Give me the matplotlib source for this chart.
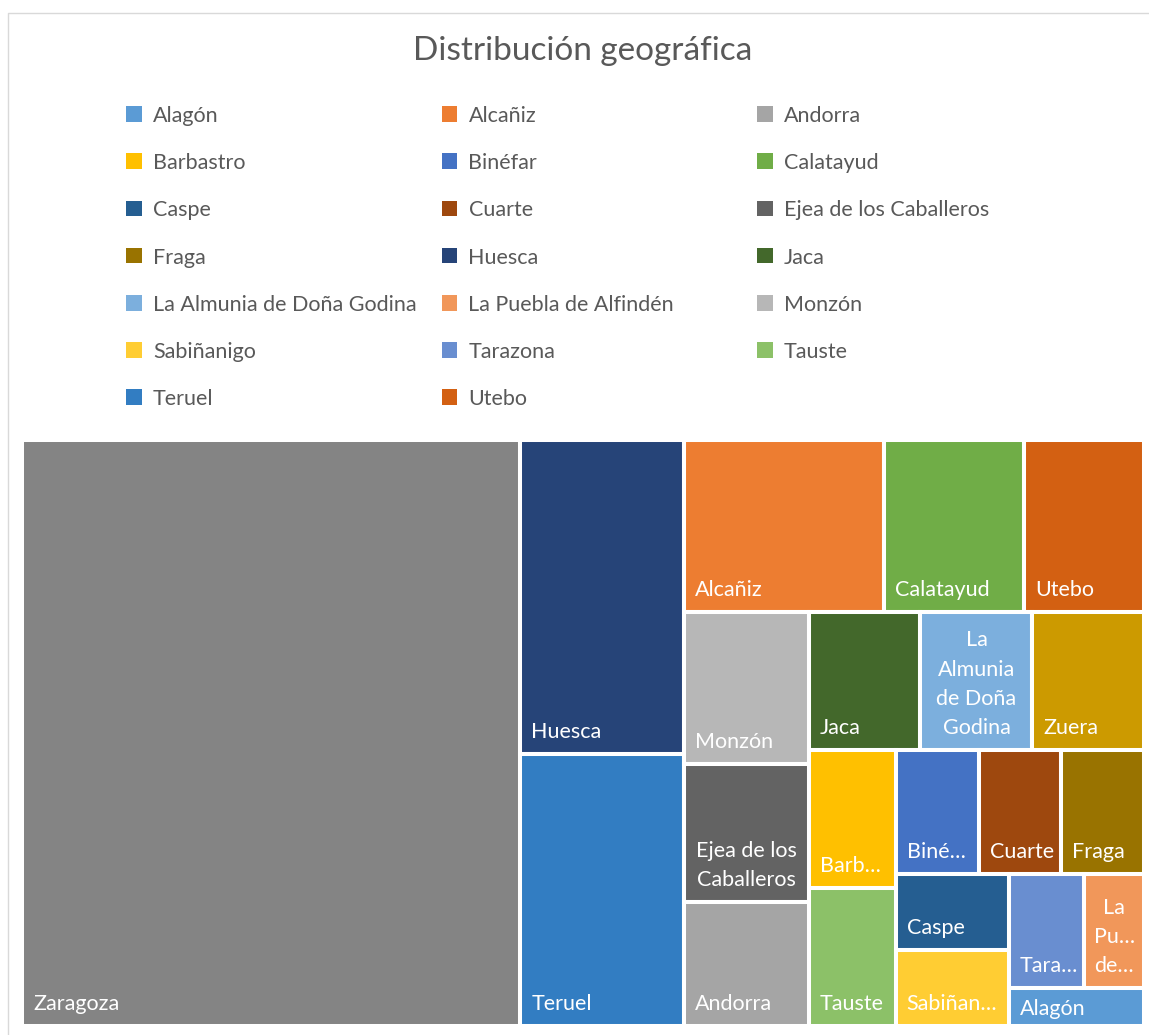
import matplotlib
matplotlib.use("Agg")
import matplotlib.pyplot as plt
from matplotlib.patches import Rectangle

plt.rcParams["font.family"] = ["Lato", "DejaVu Sans"]

# counts per town, largest first (ties alphabetical) -- the order the treemap fills
CITIES = ["Zaragoza", "Huesca", "Teruel", "Alcañiz", "Calatayud", "Utebo", "Monzón",
          "Ejea de los Caballeros", "Andorra", "Jaca", "La Almunia de Doña Godina", "Zuera",
          "Barbastro", "Tauste", "Binéfar", "Cuarte", "Fraga", "Caspe", "Sabiñanigo",
          "Tarazona", "La Puebla de Alfindén", "Alagón"]
COUNTS = [170, 30, 26, 20, 14, 12, 11, 10, 9, 9, 9, 9, 7, 7, 6, 6, 6, 5, 5, 5, 4, 3]

# labels as they get wrapped / cut inside the smaller cells
CELL_LABELS = {"Ejea de los Caballeros": "Ejea de los\nCaballeros",
               "La Almunia de Doña Godina": "La\nAlmunia\nde Doña\nGodina",
               "Barbastro": "Barb…", "Binéfar": "Biné…", "Sabiñanigo": "Sabiñan…",
               "Tarazona": "Tara…", "La Puebla de Alfindén": "La\nPu…\nde…"}

COLORS = {"Alagón": "#5B9BD5", "Alcañiz": "#ED7D31", "Andorra": "#A5A5A5",
          "Barbastro": "#FFC000", "Binéfar": "#4472C4", "Calatayud": "#70AD47",
          "Caspe": "#255E91", "Cuarte": "#9E480E", "Ejea de los Caballeros": "#636363",
          "Fraga": "#997300", "Huesca": "#264478", "Jaca": "#43682B",
          "La Almunia de Doña Godina": "#7CAFDD", "La Puebla de Alfindén": "#F1975A",
          "Monzón": "#B7B7B7", "Sabiñanigo": "#FFCD33", "Tarazona": "#698ED0",
          "Tauste": "#8CC168", "Teruel": "#327DC2", "Utebo": "#D36012",
          "Zaragoza": "#848484", "Zuera": "#CC9A00"}

# legend only has room for the first 20 (alphabetical) entries
LEGEND_NAMES = sorted(CITIES)[:20]

TEXT = "#595959"
FS = 15.5
FW, FH, DPI = 1149, 1035, 100


def squarify(areas, x, y, w, h, target=1.25):
    """Squarified layout; cells are scored against a slightly tall target shape."""
    rects, i = [], 0
    while i < len(areas):
        vertical = w >= h          # strip runs down the left side
        side = h if vertical else w

        def score(row):
            t = sum(row) / side
            worst = 0
            for a in row:
                l = a / t
                hw = l / t if vertical else t / l
                worst = max(worst, hw / target, target / hw)
            return worst

        row, j = [areas[i]], i + 1
        while j < len(areas) and score(row + [areas[j]]) <= score(row):
            row.append(areas[j]); j += 1
        t = sum(row) / side
        pos = y if vertical else x
        for a in row:
            l = a / t
            rects.append((x, pos, t, l) if vertical else (pos, y, l, t))
            pos += l
        if vertical:
            x += t; w -= t
        else:
            y += t; h -= t
        i = j
    return rects


fig = plt.figure(figsize=(FW / DPI, FH / DPI), dpi=DPI)

# overlay in pixel coords for frame, title and legend
bg = fig.add_axes([0, 0, 1, 1])
bg.set_xlim(0, FW); bg.set_ylim(FH, 0); bg.axis("off")
bg.plot([7.5, 7.5, FW + 5], [FH + 5, 12.5, 12.5], color="#D9D9D9", lw=1.0, clip_on=False)
bg.text(583, 60, "Distribución geográfica", ha="center", va="baseline",
        fontsize=24, color=TEXT)
for k, name in enumerate(LEGEND_NAMES):
    r, c = divmod(k, 3)
    x0 = 126 + c * 315.5
    yc = 114 + r * 47.2
    bg.add_patch(Rectangle((x0, yc - 7.8), 15.6, 15.6, color=COLORS[name], lw=0))
    bg.text(x0 + 27, yc + 8, name, ha="left", va="baseline", fontsize=FS, color=TEXT)

# treemap, data units = pixels of the plot area
L, R, T, B = 22.0, 1144.3, 440.3, 1026.3
TW, TH = R - L, B - T
ax = fig.add_axes([L / FW, (FH - B) / FH, TW / FW, TH / FH])
ax.set_xlim(0, TW); ax.set_ylim(TH, 0); ax.axis("off")

scale = TW * TH / sum(COUNTS)
rects = squarify([v * scale for v in COUNTS], 0, 0, TW, TH)
for name, (x, y, w, h) in zip(CITIES, rects):
    ax.add_patch(Rectangle((x, y), w, h, facecolor=COLORS[name], edgecolor="white",
                           lw=2.9, clip_on=False))
    label = CELL_LABELS.get(name, name)
    pad = min(12, (h - 23) / 2)
    if "\n" in label:
        ax.text(x + w / 2, y + h - pad, label, ha="center", va="bottom",
                multialignment="center", linespacing=1.58, fontsize=FS, color="white")
    else:
        ax.text(x + 11, y + h - pad, label, ha="left", va="bottom",
                fontsize=FS, color="white")

fig.savefig("out.png", dpi=DPI)
